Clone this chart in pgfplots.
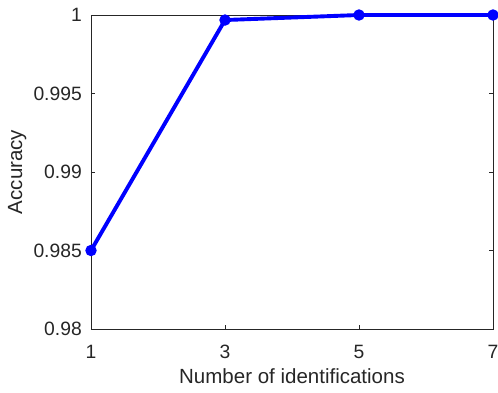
\documentclass[border=0pt]{standalone}
\usepackage{fontspec}
\setmainfont{Liberation Sans}
\usepackage{pgfplots}
\pgfplotsset{compat=1.18}
\definecolor{mgray}{rgb}{0.15,0.15,0.15}
\begin{document}
\begin{tikzpicture}
\useasboundingbox (-91pt,-63pt) rectangle (407pt,329pt);
\begin{axis}[
  at={(0,0)}, anchor=south west,
  scale only axis,
  width=402pt, height=314pt,
  xmin=1, xmax=7, ymin=0.98, ymax=1,
  xtick={1,3,5,7}, xticklabels={1,3,5,7},
  ytick={0.98,0.985,0.99,0.995,1},
  yticklabels={0.98,0.985,0.99,0.995,1},
  tick align=inside,
  major tick length=4pt,
  axis line style={mgray, line width=0.8pt},
  tick style={mgray, line width=0.8pt},
  ticklabel style={font=\fontsize{19.3}{22}\selectfont, text=mgray},
  xticklabel style={anchor=base, yshift=-29pt, inner sep=0pt},
  yticklabel style={anchor=east, inner sep=0pt, xshift=-9pt},
  xlabel={Number of identifications},
  ylabel={Accuracy},
  label style={font=\fontsize{20.5}{24}\selectfont, text=mgray},
  xlabel style={at={(axis description cs:0.5,-0.175)}, anchor=base, inner sep=0pt},
  ylabel style={at={(axis description cs:-0.16,0.5)}, anchor=south, inner sep=0pt},
  clip=false,
]
\addplot[blue, line width=3.9pt, mark=*, mark size=5.2pt,
  mark options={solid, fill=blue, line width=1pt}]
  coordinates {(1,0.985) (3,0.99968) (5,1) (7,1)};
\end{axis}
\end{tikzpicture}
\end{document}
